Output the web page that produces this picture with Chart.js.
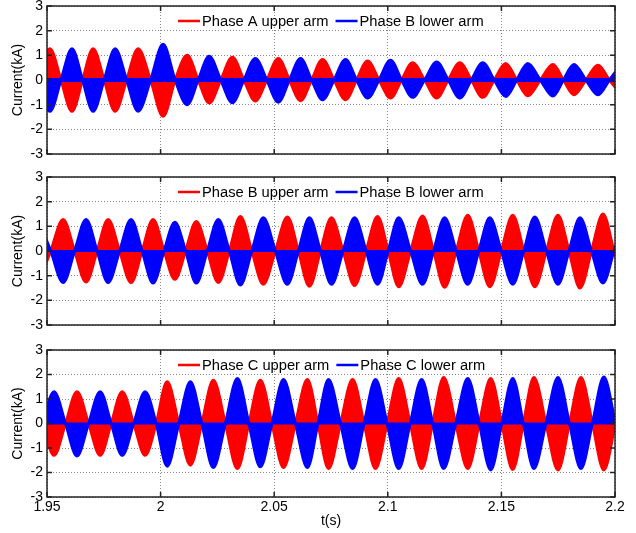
<!DOCTYPE html>
<html>
<head>
<meta charset="utf-8">
<script src="https://cdn.jsdelivr.net/npm/chart.js@4.4.1/dist/chart.umd.min.js"></script>
<style>
  html, body { margin:0; padding:0; background:#fff; }
  body { width:636px; height:533px; position:relative; overflow:hidden; }
  canvas { position:absolute; left:0; }
</style>
</head>
<body>
<canvas id="c1" width="636" height="180" style="top:-10px"></canvas>
<canvas id="c2" width="636" height="180" style="top:161px"></canvas>
<canvas id="c3" width="636" height="199" style="top:334px"></canvas>
<script>
// peak times (s) of each half-cycle lobe, and signed peak current (kA)
var timesA = [1.9416, 1.9513, 1.9610, 1.9703, 1.9800, 1.9901, 2.0011, 2.0117, 2.0214, 2.0316, 2.0417, 2.0518, 2.0616, 2.0713, 2.0814, 2.0911, 2.1012, 2.1109, 2.1215, 2.1317, 2.1418, 2.1519, 2.1616, 2.1727, 2.1819, 2.1925, 2.2026];
var redA  = [-1.27, 1.27, -1.27, 1.27, -1.27, 1.27, -1.47, 1.0, -0.93, 0.92, -0.85, 0.87, -0.84, 0.83, -0.8, 0.77, -0.73, 0.7, -0.73, 0.7, -0.7, 0.67, -0.64, 0.63, -0.6, 0.6, -0.58];
var blueA = [1.27, -1.27, 1.27, -1.27, 1.27, -1.27, 1.45, -1.0, 0.96, -0.92, 0.87, -0.9, 0.87, -0.8, 0.83, -0.73, 0.8, -0.7, 0.73, -0.73, 0.7, -0.67, 0.67, -0.65, 0.63, -0.6, 0.6];

var timesB = [1.9462, 1.9571, 1.9672, 1.9769, 1.9870, 1.9967, 2.0063, 2.0157, 2.0254, 2.0351, 2.0452, 2.0558, 2.0655, 2.0752, 2.0854, 2.0955, 2.1048, 2.1153, 2.1250, 2.1352, 2.1449, 2.1550, 2.1647, 2.1749, 2.1846, 2.1947, 2.2044];
var redB  = [-1.25, 1.28, -1.26, 1.28, -1.28, 1.28, -1.15, 1.2, -1.28, 1.4, -1.35, 1.38, -1.43, 1.35, -1.4, 1.4, -1.45, 1.42, -1.47, 1.45, -1.45, 1.45, -1.45, 1.45, -1.5, 1.5, -1.45];
var blueB = [1.25, -1.28, 1.28, -1.28, 1.28, -1.3, 1.17, -1.3, 1.28, -1.38, 1.35, -1.35, 1.35, -1.35, 1.35, -1.35, 1.35, -1.35, 1.35, -1.35, 1.35, -1.35, 1.38, -1.35, 1.35, -1.3, 1.3];

var timesC = [1.9429, 1.9531, 1.9632, 1.9734, 1.9831, 1.9932, 2.0029, 2.0131, 2.0232, 2.0338, 2.0439, 2.0541, 2.0646, 2.0739, 2.0845, 2.0946, 2.1048, 2.1149, 2.1246, 2.1352, 2.1453, 2.1550, 2.1643, 2.1749, 2.1850, 2.1951, 2.2053];
var redC  = [1.3, -1.3, 1.3, -1.3, 1.3, -1.3, 1.7, -1.7, 1.77, -1.84, 1.77, -1.8, 1.8, -1.84, 1.8, -1.84, 1.84, -1.84, 1.88, -1.84, 1.84, -1.88, 1.88, -1.9, 1.88, -1.9, 1.85];
var blueC = [-1.3, 1.3, -1.33, 1.3, -1.3, 1.3, -1.74, 1.7, -1.8, 1.84, -1.77, 1.8, -1.8, 1.8, -1.84, 1.8, -1.84, 1.8, -1.84, 1.84, -1.9, 1.84, -1.84, 1.88, -1.84, 1.9, -1.85];

var legendA = ['Phase A upper arm', 'Phase B lower arm'];
var legendB = ['Phase B upper arm', 'Phase B lower arm'];
var legendC = ['Phase C upper arm', 'Phase C lower arm'];

var yTicks = [-3, -2, -1, 0, 1, 2, 3];
var xTicks = [1.95, 2, 2.05, 2.1, 2.15, 2.2];

Chart.defaults.font.family = 'Liberation Sans, Arial, sans-serif';
Chart.defaults.font.size = 14;
Chart.defaults.color = '#000';

// peak, zero crossing, peak ... (current passes zero between two lobes)
function lobes(times, peaks) {
	var pts = [];
	for (var i = 0; i < times.length; i++) {
		if (i > 0) pts.push({x: (times[i-1] + times[i]) / 2, y: 0});
		pts.push({x: times[i], y: peaks[i]});
	}
	return pts;
}

var frame = {
	id: 'frame',
	afterDatasetsDraw: function(chart) {
		var a = chart.chartArea, ctx = chart.ctx;
		var xs = chart.scales.x, ys = chart.scales.y;
		ctx.save();
		ctx.strokeStyle = '#222';
		ctx.lineWidth = 1.5;
		ctx.beginPath();
		yTicks.forEach(function(v){
			var y = ys.getPixelForValue(v);
			ctx.moveTo(a.left, y); ctx.lineTo(a.left + 5, y);
			ctx.moveTo(a.right, y); ctx.lineTo(a.right - 5, y);
		});
		xTicks.forEach(function(v){
			var x = xs.getPixelForValue(v);
			ctx.moveTo(x, a.top); ctx.lineTo(x, a.top + 5);
			ctx.moveTo(x, a.bottom); ctx.lineTo(x, a.bottom - 5);
		});
		ctx.stroke();
		ctx.strokeRect(a.left, a.top, a.right - a.left, a.bottom - a.top);

		// legend inside the axes, matlab style
		ctx.font = '14.7px Liberation Sans, Arial, sans-serif';
		ctx.textBaseline = 'middle';
		ctx.fillStyle = '#000';
		var x = a.left + 131, y = a.top + 15;
		chart.data.datasets.slice(0, 2).forEach(function(ds){
			ctx.strokeStyle = ds.borderColor;
			ctx.lineWidth = 2.5;
			ctx.beginPath(); ctx.moveTo(x, y); ctx.lineTo(x + 22, y); ctx.stroke();
			ctx.fillText(ds.label, x + 24, y + 1);
			x += 24 + ctx.measureText(ds.label).width + 7;
		});
		ctx.restore();
	}
};

function panel(id, times, red, blue, names, showX, band) {
	var ctx = document.getElementById(id);
	return new Chart(ctx, {
		type: 'line',
		data: {
			datasets: [
				{label: names[0], data: lobes(times, red), borderColor: '#ff0000', backgroundColor: '#ff0000', fill: 'origin', order: 2},
				{label: names[1], data: lobes(times, blue), borderColor: '#0000ff', backgroundColor: '#0000ff', fill: 'origin', order: 1},
				// ripple of the lower arm around zero
				{label: 'ripple', data: times.map(function(t){ return {x: t, y: 0}; }), borderColor: '#0000ff', borderWidth: band, fill: false, order: 0}
			]
		},
		options: {
			responsive: false,
			animation: false,
			layout: {padding: {left: 0, right: 21, top: 16, bottom: showX ? 0 : 16}},
			elements: {point: {radius: 0}, line: {borderWidth: 3, cubicInterpolationMode: 'monotone'}},
			plugins: {legend: {display: false}, tooltip: {enabled: false}},
			scales: {
				x: {
					type: 'linear', min: 1.95, max: 2.2,
					afterBuildTicks: function(s){ s.ticks = xTicks.map(function(v){ return {value: v}; }); },
					afterFit: function(s){ s.height = showX ? 36 : 0; },
					ticks: {display: showX, padding: 2, maxRotation: 0, callback: function(v){ return String(Number(v.toFixed(2))); }},
					grid: {color: '#888', drawTicks: false},
					border: {display: false, dash: [1, 2]},
					title: {display: showX, text: 't(s)', padding: {top: 0, bottom: 3}}
				},
				y: {
					min: -3, max: 3,
					afterBuildTicks: function(s){ s.ticks = yTicks.map(function(v){ return {value: v}; }); },
					afterFit: function(s){ s.width = 47; },
					ticks: {padding: 4, callback: function(v){ return String(v); }},
					grid: {color: '#888', drawTicks: false},
					border: {display: false, dash: [1, 2]},
					title: {display: true, text: 'Current(kA)', padding: {top: 10, bottom: 0}}
				}
			}
		},
		plugins: [frame]
	});
}

panel('c1', timesA, redA, blueA, legendA, false, 4);
panel('c2', timesB, redB, blueB, legendB, false, 2);
panel('c3', timesC, redC, blueC, legendC, true, 2);
</script>
</body>
</html>
